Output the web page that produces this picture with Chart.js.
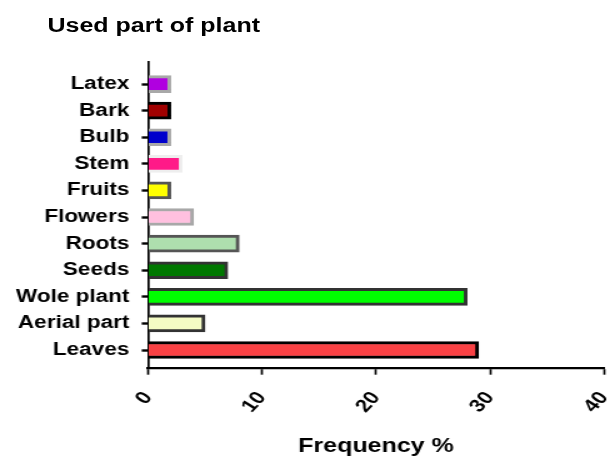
<!DOCTYPE html>
<html>
<head>
<meta charset="utf-8">
<title>Used part of plant</title>
<script src="https://cdn.jsdelivr.net/npm/chart.js@4.4.1/dist/chart.umd.min.js"></script>
<style>
    html, body { margin: 0; padding: 0; background: #fff; overflow: hidden; }
    /* the reference is stretched sideways, so the whole chart is drawn narrow and scaled */
    #wrap {
        position: relative;
        width: 488px;
        height: 461px;
        transform: scaleX(1.25);
        transform-origin: 0 0;
    }
    #chart-title {
        position: absolute;
        left: 38px;
        top: 15px;
        font: bold 20px 'Liberation Sans', Arial, sans-serif;
        line-height: 20px;
        color: #000;
        white-space: nowrap;
    }
    #chart { position: absolute; left: 0; top: 0; }
</style>
</head>
<body>
<div id="wrap">
    <div id="chart-title">Used part of plant</div>
    <canvas id="chart"></canvas>
</div>
<script>
// Data (bottom to top, as in the picture)
const categories = ['Leaves', 'Aerial part', 'Wole plant', 'Seeds', 'Roots', 'Flowers', 'Fruits', 'Stem', 'Bulb', 'Bark', 'Latex'];
const frequency = [29, 5, 28, 7, 8, 4, 2, 3, 2, 2, 2];
const xTicks = [0, 10, 20, 30, 40];

// Colours for each bar
const fillColors = ['#f94144', '#f4fcc4', '#00ff00', '#007800', '#aedfae', '#ffc0df', '#ffff00', '#ff1a88', '#0000cc', '#a00000', '#b000e0'];
const edgeColors = ['#000000', '#333333', '#333333', '#333333', '#555555', '#a8a8a8', '#555555', '#eeeeee', '#a8a8a8', '#000000', '#a8a8a8'];

const FONT = "'Liberation Sans', Arial, sans-serif";

const ctx = document.getElementById('chart').getContext('2d');
const myChart = new Chart(ctx, {
    type: 'bar',
    data: {
        datasets: [{
            label: 'Frequency %',
            data: frequency.map((v, i) => ({ x: v, y: i })),
            backgroundColor: fillColors,
            borderColor: edgeColors,
            borderWidth: 3,
            barThickness: 17
        }]
    },
    options: {
        indexAxis: 'y',
        responsive: true,
        maintainAspectRatio: false,
        animation: false,
        layout: { padding: { top: 62, right: 4.8, bottom: 0, left: 0 } },
        plugins: {
            legend: { display: false },
            tooltip: { enabled: false }
        },
        scales: {
            x: {
                type: 'linear',
                min: xTicks[0],
                max: xTicks[xTicks.length - 1],
                afterBuildTicks: (scale) => { scale.ticks = xTicks.map(v => ({ value: v })); },
                afterFit: (scale) => {
                    scale.paddingRight = 0;
                    scale.height = 93.3;
                },
                border: { display: true, color: '#000', width: 2.2 },
                grid: { drawOnChartArea: false, drawTicks: true, tickLength: 7, tickColor: '#000', tickWidth: 1.7 },
                ticks: {
                    color: '#000',
                    font: { family: FONT, size: 18, weight: 'bold' },
                    minRotation: 52,
                    maxRotation: 52,
                    padding: 13
                },
                title: {
                    display: true,
                    text: 'Frequency %',
                    color: '#000',
                    font: { family: FONT, size: 20, weight: 'bold' },
                    padding: { top: 0, bottom: 3 }
                }
            },
            y: {
                type: 'linear',
                offset: false,
                min: -0.665,
                max: 10.83,
                afterBuildTicks: (scale) => { scale.ticks = categories.map((c, i) => ({ value: i })); },
                afterFit: (scale) => { scale.width = 118.4; },
                border: { display: true, color: '#000', width: 1.7 },
                grid: { offset: false, drawOnChartArea: false, drawTicks: true, tickLength: 5, tickColor: '#000', tickWidth: 2.4 },
                ticks: {
                    color: '#000',
                    font: { family: FONT, size: 18, weight: 'bold' },
                    padding: 10,
                    callback: (value) => categories[value]
                }
            }
        }
    }
});
</script>
</body>
</html>
